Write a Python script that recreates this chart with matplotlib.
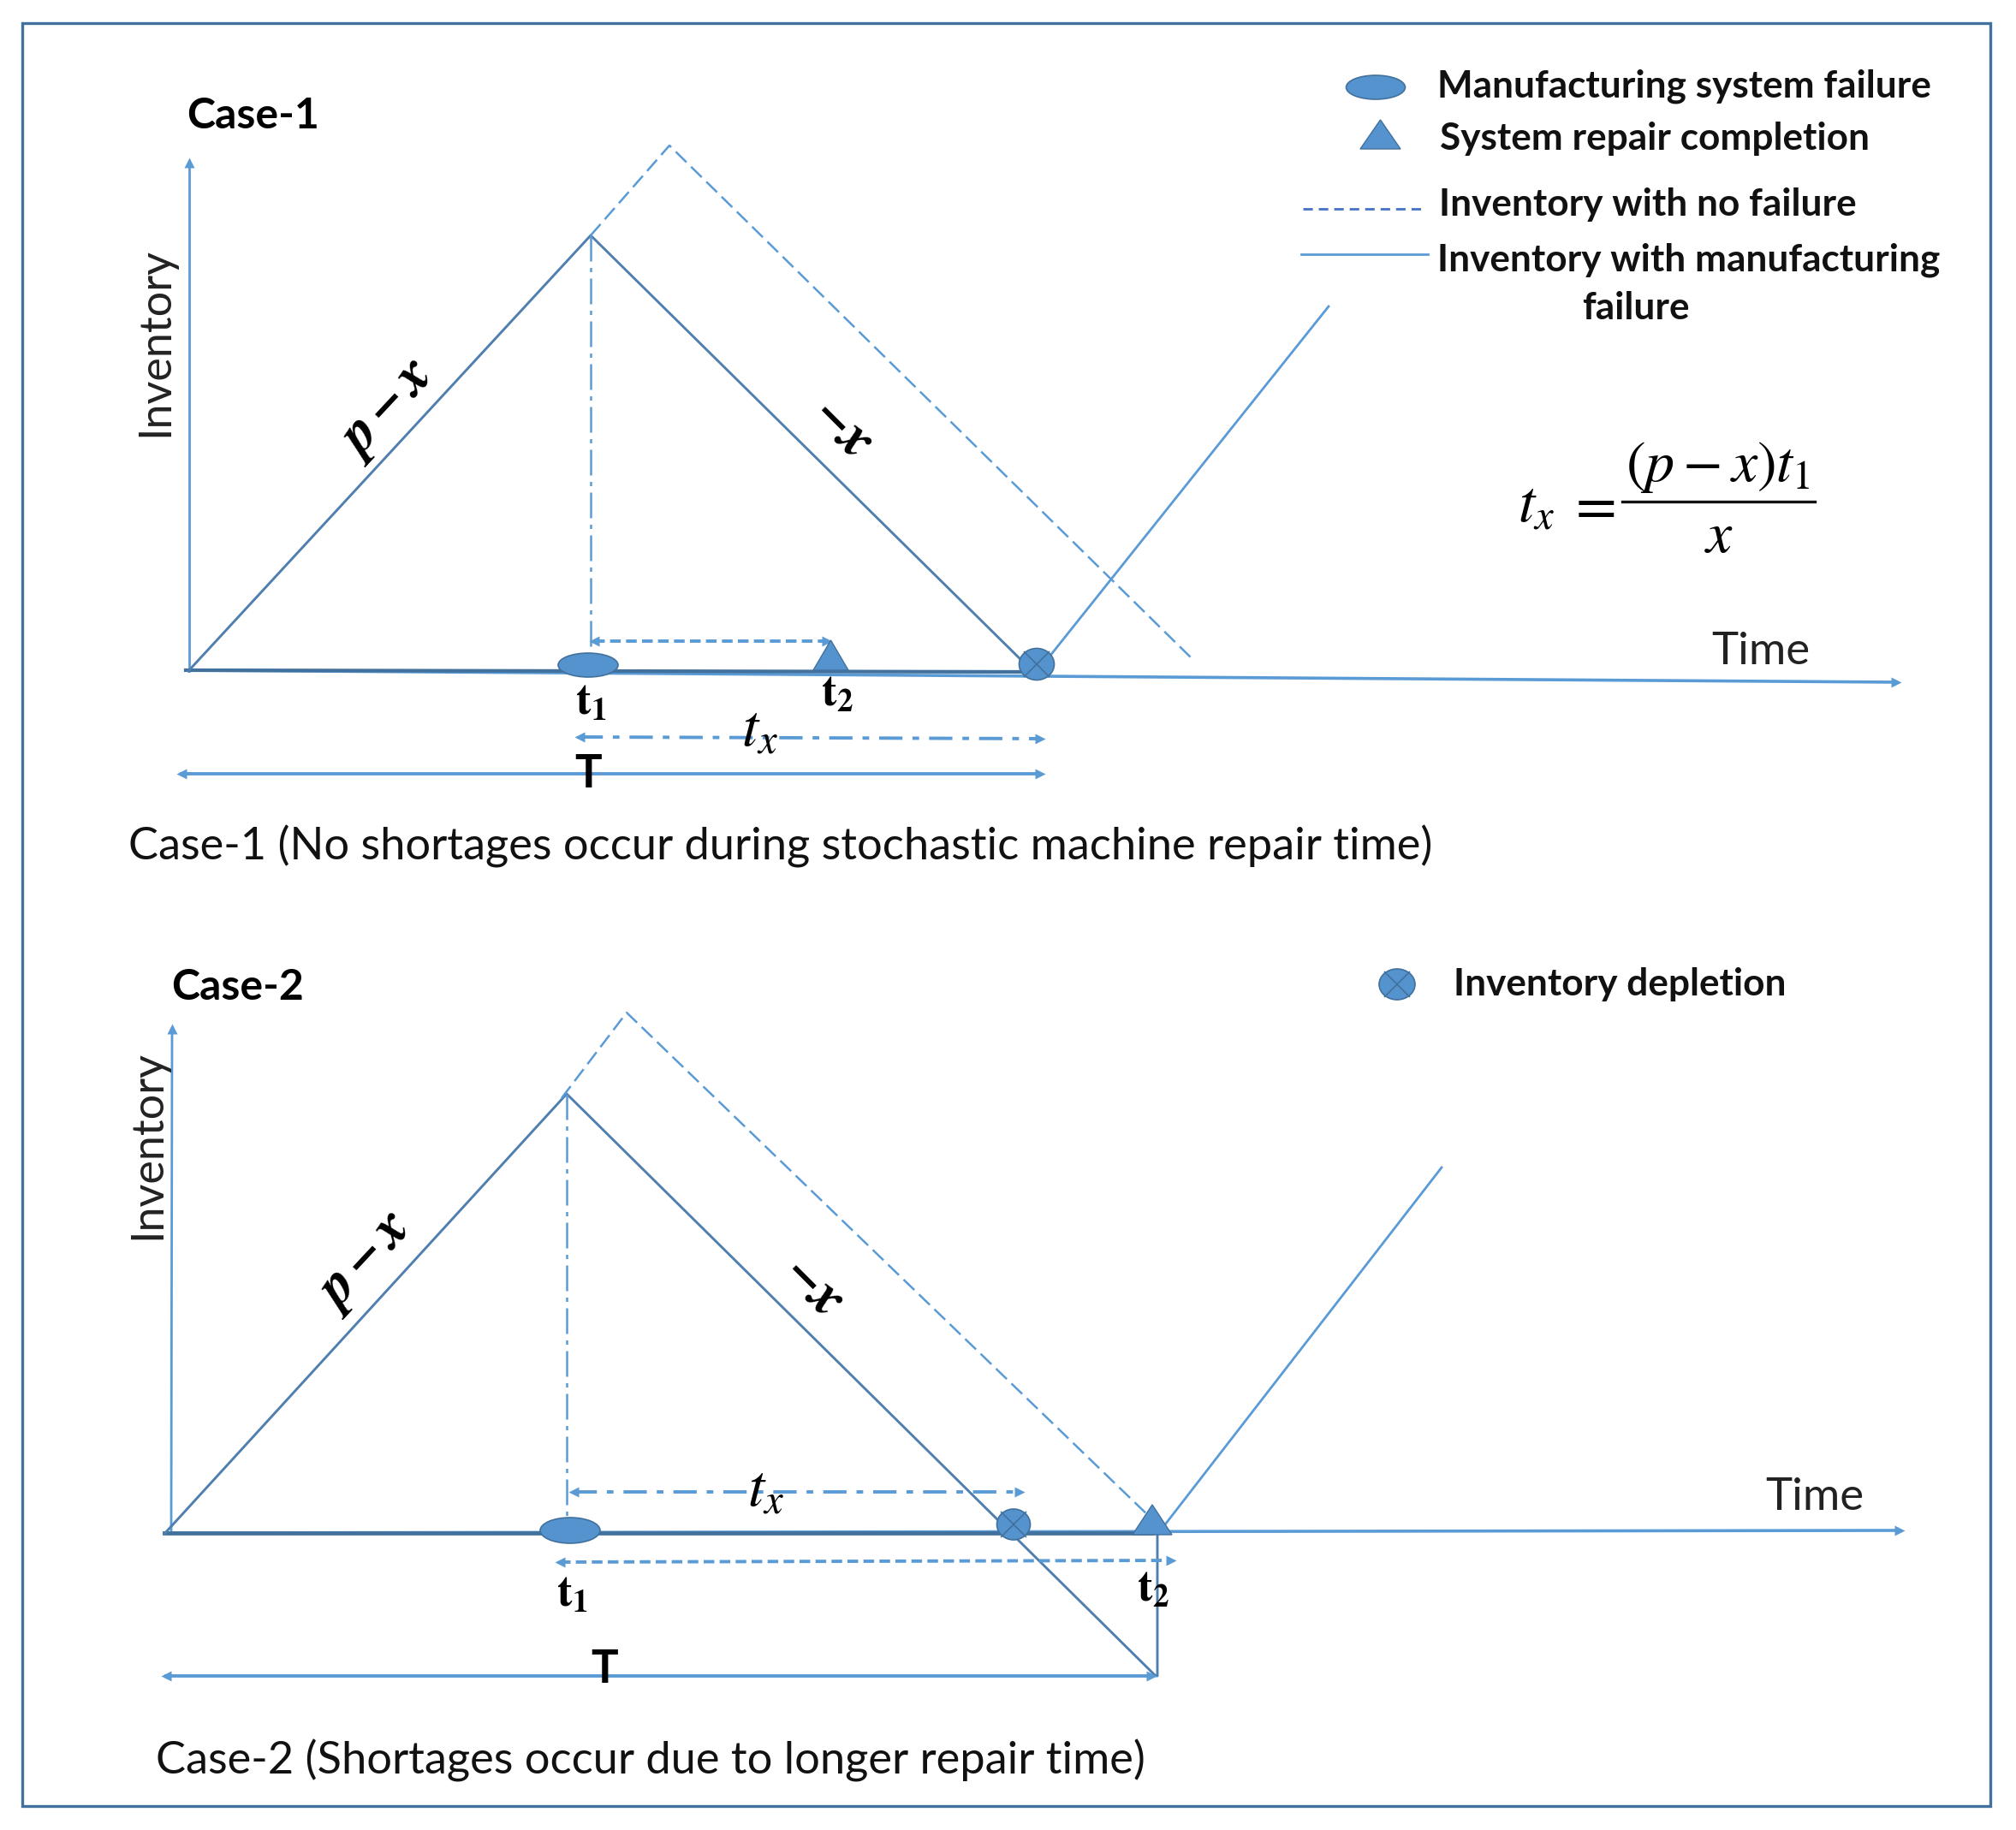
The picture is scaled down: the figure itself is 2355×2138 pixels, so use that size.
import matplotlib
matplotlib.use("Agg")
import matplotlib.pyplot as plt
from matplotlib.patches import Ellipse, Polygon, Rectangle

plt.rcParams['font.family'] = ['Lato', 'DejaVu Sans']
plt.rcParams['mathtext.fontset'] = 'stix'

BLUE = '#5B9BD5'
DARK = '#41719C'
MARK = '#5593CF'

frame = [26, 27, 2325, 2110]

# case 1
c1_yaxis_x = [221, 221]
c1_yaxis_y = [784, 190]
c1_time_x = [217, 2215]
c1_time_y = [783, 797]
c1_base_x = [217, 1204]
c1_base_y = [783, 785]
c1_solid_x = [220, 690, 1204]
c1_solid_y = [784, 275, 782]
c1_rise_x = [1222, 1552]
c1_rise_y = [772, 358]
c1_nofail_x = [690, 782, 1394]
c1_nofail_y = [275, 170, 771]
c1_drop_x = [690, 690]
c1_drop_y = [275, 763]
c1_repair_x = [694, 966]
c1_repair_y = [749, 749]
c1_tx_x = [677, 1215]
c1_tx_y = [861, 863]
c1_T_x = [212, 1215]
c1_T_y = [904, 904]
c1_failure = [687, 777, 70, 28]
c1_complete = [950, 991, 783, 748]
c1_deplete = [1211, 776, 41, 37]

# case 2
c2_yaxis_x = [201, 200]
c2_yaxis_y = [1202, 1791]
c2_time_x = [192, 2219]
c2_time_y = [1791, 1788]
c2_base_x = [192, 1346]
c2_base_y = [1791, 1791]
c2_solid_x = [192, 662, 1350, 1352, 1352]
c2_solid_y = [1792, 1278, 1958, 1958, 1793]
c2_rise_x = [1358, 1684]
c2_rise_y = [1785, 1364]
c2_nofail_x = [656, 732, 1346]
c2_nofail_y = [1283, 1183, 1775]
c2_drop_x = [662, 662]
c2_drop_y = [1278, 1773]
c2_tx_x = [670, 1191]
c2_tx_y = [1743, 1743]
c2_repair_x = [654, 1368]
c2_repair_y = [1825, 1823]
c2_T_x = [194, 1345]
c2_T_y = [1958, 1958]
c2_failure = [666, 1788, 70, 30]
c2_complete = [1323, 1369, 1793, 1758]
c2_deplete = [1184, 1781, 39, 36]

# legend
leg_failure = [1607, 102, 69, 28]
leg_complete = [1589, 1636, 174, 140]
leg_dash_x = [1522, 1666]
leg_dash_y = [244, 244]
leg_solid_x = [1520, 1668]
leg_solid_y = [297, 297]
leg_deplete = [1632, 1150, 42, 36]
leg_labels = ['Manufacturing system failure', 'System repair completion',
              'Inventory with no failure', 'Inventory with manufacturing',
              'failure', 'Inventory depletion']
leg_label_x = [1679, 1682, 1681, 1679, 1848, 1698]
leg_label_y = [101, 162, 239, 304, 360, 1150]
frac_x = [1895, 2120]
frac_y = [586, 586]

fig = plt.figure(figsize=(23.55, 21.38), dpi=100)
ax = fig.add_axes([0, 0, 1, 1])
ax.set_xlim(0, 2355)
ax.set_ylim(2138, 0)
ax.axis('off')


def arrow(xs, ys, ls='-', lw=2.8, both=True):
    ax.plot(xs, ys, color=BLUE, lw=lw, ls=ls, zorder=2)
    if both:
        ax.plot(xs[0], ys[0], marker='<', ms=9, color=BLUE, mec='none', zorder=3)
    ax.plot(xs[-1], ys[-1], marker='>', ms=9, color=BLUE, mec='none', zorder=3)


def failure(m):
    ax.add_patch(Ellipse((m[0], m[1]), m[2], m[3], fc=MARK, ec=DARK, lw=1.2, zorder=4))


def complete(m):
    ax.add_patch(Polygon([(m[0], m[2]), (m[1], m[2]), ((m[0] + m[1]) / 2, m[3])],
                         closed=True, fc=MARK, ec=DARK, lw=1.0, zorder=4))


def deplete(m):
    ax.add_patch(Ellipse((m[0], m[1]), m[2], m[3], fc=MARK, ec=DARK, lw=1.2, zorder=4))
    ax.plot(m[0], m[1], marker='x', ms=m[3] * 0.6, mew=1.2, color=DARK, zorder=5)


ax.add_patch(Rectangle((frame[0], frame[1]), frame[2] - frame[0], frame[3] - frame[1],
                       fc='none', ec=DARK, lw=2.4))

# case 1 lines
ax.plot(c1_yaxis_x, c1_yaxis_y, color=BLUE, lw=2.0)
ax.plot(c1_yaxis_x[-1], c1_yaxis_y[-1], marker='^', ms=8, color=BLUE, mec='none')
ax.plot(c1_time_x, c1_time_y, color=BLUE, lw=2.6)
ax.plot(c1_time_x[-1], c1_time_y[-1], marker='>', ms=8, color=BLUE, mec='none')
ax.plot(c1_base_x, c1_base_y, color=DARK, lw=3.0)
ax.plot(c1_solid_x, c1_solid_y, color='#4F7FAE', lw=2.1)
ax.plot(c1_rise_x, c1_rise_y, color=BLUE, lw=2.0)
ax.plot(c1_nofail_x, c1_nofail_y, color=BLUE, lw=1.8, ls=(0, (7, 3)))
ax.plot(c1_drop_x, c1_drop_y, color=BLUE, lw=1.8, ls=(0, (12, 3, 2, 3)))
arrow(c1_repair_x, c1_repair_y, ls=(0, (3.2, 1.6)))
arrow(c1_tx_x, c1_tx_y, ls=(0, (7, 3, 2, 3)))
arrow(c1_T_x, c1_T_y)
failure(c1_failure)
complete(c1_complete)
deplete(c1_deplete)

# case 2 lines
ax.plot(c2_yaxis_x, c2_yaxis_y, color=BLUE, lw=2.0)
ax.plot(c2_yaxis_x[0], c2_yaxis_y[0], marker='^', ms=8, color=BLUE, mec='none')
ax.plot(c2_time_x, c2_time_y, color=BLUE, lw=2.6)
ax.plot(c2_time_x[-1], c2_time_y[-1], marker='>', ms=8, color=BLUE, mec='none')
ax.plot(c2_base_x, c2_base_y, color=DARK, lw=3.4)
ax.plot(c2_solid_x, c2_solid_y, color='#4F7FAE', lw=2.1)
ax.plot(c2_rise_x, c2_rise_y, color=BLUE, lw=2.0)
ax.plot(c2_nofail_x, c2_nofail_y, color=BLUE, lw=1.8, ls=(0, (7, 3)))
ax.plot(c2_drop_x, c2_drop_y, color=BLUE, lw=1.8, ls=(0, (12, 3, 2, 3)))
arrow(c2_tx_x, c2_tx_y, ls=(0, (7, 3, 2, 3)))
arrow(c2_repair_x, c2_repair_y, ls=(0, (3.2, 1.6)))
arrow(c2_T_x, c2_T_y)
failure(c2_failure)
complete(c2_complete)
deplete(c2_deplete)

# legend marks
failure(leg_failure)
complete(leg_complete)
deplete(leg_deplete)
ax.plot(leg_dash_x, leg_dash_y, color='#4472C4', lw=2.0, ls=(0, (4, 2.5)))
ax.plot(leg_solid_x, leg_solid_y, color=BLUE, lw=2.0)
for lab, lx, ly in zip(leg_labels, leg_label_x, leg_label_y):
    ax.text(lx, ly, lab, fontsize=31.8, fontweight='bold', color='#111111', ha='left', va='center')

# headings and captions
ax.text(218, 135, 'Case-1', fontsize=36, fontweight='bold', ha='left', va='center')
ax.text(200, 1153, 'Case-2', fontsize=36, fontweight='bold', ha='left', va='center')
ax.text(182, 399, 'Inventory', fontsize=37.5, rotation=90, color='#222222', ha='center', va='center')
ax.text(173, 1338, 'Inventory', fontsize=37.5, rotation=90, color='#222222', ha='center', va='center')
ax.text(2057, 761, 'Time', fontsize=38, color='#222222', ha='center', va='center')
ax.text(2120, 1749, 'Time', fontsize=38, color='#222222', ha='center', va='center')
ax.text(150, 989, 'Case-1 (No shortages occur during stochastic machine repair time)',
        fontsize=37.7, color='#111111', ha='left', va='center')
ax.text(182, 2057, 'Case-2 (Shortages occur due to longer repair time)',
        fontsize=37.7, color='#111111', ha='left', va='center')

# slope labels
ax.text(451, 478, r'$\mathbfit{p-x}$', fontsize=48, rotation=47, ha='center', va='center')
ax.text(986, 498, r'$\mathbfit{-x}$', fontsize=48, rotation=-45, ha='center', va='center')
ax.text(425, 1474, r'$\mathbfit{p-x}$', fontsize=48, rotation=47, ha='center', va='center')
ax.text(952, 1501, r'$\mathbfit{-x}$', fontsize=48, rotation=-45, ha='center', va='center')

# time marks
for s, tx, ty in [('1', 690, 820), ('2', 978, 810), ('1', 668, 1862), ('2', 1347, 1856)]:
    ax.text(tx, ty, r'$\mathbf{t}_{\mathbf{' + s + '}}$', fontsize=38, ha='center', va='center', zorder=6)
ax.text(687, 904, 'T', fontsize=38, fontweight='bold', ha='center', va='center', zorder=6)
ax.text(706, 1951, 'T', fontsize=38, fontweight='bold', ha='center', va='center', zorder=6)
ax.text(888, 852, r'$t_x$', fontsize=50, ha='center', va='center', zorder=6)
ax.text(895, 1740, r'$t_x$', fontsize=50, ha='center', va='center', zorder=6)

# formula
ax.text(1795, 590, r'$t_x$', fontsize=50, ha='center', va='center')
ax.text(1858, 590, r'$=$', fontsize=50, ha='center', va='center')
ax.text(2007, 546, r'$(p-x)t_1$', fontsize=49, ha='center', va='center')
ax.text(2008, 626, r'$x$', fontsize=49, ha='center', va='center')
ax.plot(frac_x, frac_y, color='#111111', lw=2.4)

fig.savefig('out.png', dpi=100)
